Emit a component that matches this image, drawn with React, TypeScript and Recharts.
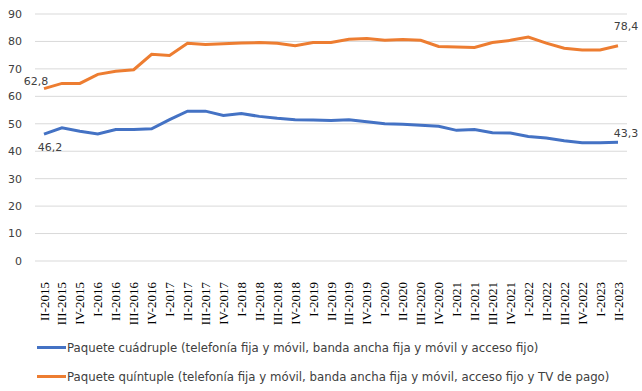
import React from 'react';
import { LineChart, Line, XAxis, YAxis, CartesianGrid, Legend, LabelList } from 'recharts';

const categories = ['II-2015','III-2015','IV-2015','I-2016','II-2016','III-2016','IV-2016','I-2017','II-2017','III-2017','IV-2017','I-2018','II-2018','III-2018','IV-2018','I-2019','II-2019','III-2019','IV-2019','I-2020','II-2020','III-2020','IV-2020','I-2021','II-2021','III-2021','IV-2021','I-2022','II-2022','III-2022','IV-2022','I-2023','II-2023'];
const cuadruple = [46.2,48.5,47.3,46.3,47.9,47.9,48.2,51.5,54.6,54.6,53.0,53.7,52.7,52.0,51.5,51.4,51.2,51.5,50.7,50.0,49.8,49.5,49.1,47.6,47.9,46.7,46.6,45.4,44.8,43.8,43.1,43.1,43.3];
const quintuple = [62.8,64.7,64.7,68.0,69.1,69.7,75.3,74.9,79.3,78.9,79.2,79.4,79.6,79.3,78.4,79.6,79.6,80.8,81.1,80.4,80.7,80.4,78.2,78.0,77.8,79.6,80.4,81.6,79.4,77.5,76.9,76.9,78.4];
const yTicks = [0,10,20,30,40,50,60,70,80,90];
const seriesNames = [
  'Paquete cuádruple (telefonía fija y móvil, banda ancha fija y móvil y acceso fijo)',
  'Paquete quíntuple (telefonía fija y móvil, banda ancha fija y móvil, acceso fijo y TV de pago)',
];
const colors = ['#4472C4', '#ED7D31'];

const data = categories.map((c, i) => ({ cat: c, cuadruple: cuadruple[i], quintuple: quintuple[i] }));
const last = categories.length - 1;
const fmt = (v: number) => v.toFixed(1).replace('.', ',');
const FONT = "'DejaVu Sans', Verdana, sans-serif";

const XTick = (props: any) => {
  const { x, y, payload } = props;
  return (
    <text x={x} y={y} transform={`rotate(-90, ${x}, ${y})`} textAnchor="end" dominantBaseline="central"
      fontFamily="'Liberation Serif', 'Times New Roman', serif" fontSize={13} fill="#000" dx={-13}>
      {payload.value}
    </text>
  );
};

const makeLabel = (firstDx: number, firstDy: number, lastDx: number, lastDy: number) => (props: any) => {
  const { x, y, value, index } = props;
  if (index !== 0 && index !== last) return null;
  const dx = index === 0 ? firstDx : lastDx;
  const dy = index === 0 ? firstDy : lastDy;
  return (
    <text x={x + dx} y={y + dy} textAnchor="middle" dominantBaseline="central" fontFamily={FONT} fontSize={11} fill="#404040">
      {fmt(value)}
    </text>
  );
};

const LegendContent = () => (
  <div style={{ fontFamily: FONT, fontSize: 11.75, color: '#404040' }}>
    {seriesNames.map((n, i) => (
      <div key={i} style={{ display: 'flex', alignItems: 'center', height: 29 }}>
        <div style={{ width: 29, height: 3, background: colors[i], marginRight: 1 }} />
        <span style={{ whiteSpace: 'nowrap' }}>{n}</span>
      </div>
    ))}
  </div>
);

export default function App() {
  return (
    <div style={{ position: 'absolute', left: 0, top: 0, width: 642, height: 391, background: '#fff' }}>
      <LineChart width={642} height={391} data={data} margin={{ top: 14, right: 15, left: 0, bottom: 0 }}>
        <CartesianGrid vertical={false} stroke="#D9D9D9" strokeWidth={1} />
        <XAxis dataKey="cat" interval={0} tick={<XTick />} axisLine={false} tickLine={false} height={130}
          padding={{ left: 9, right: 9 }} />
        <YAxis domain={[0, 90]} ticks={yTicks} width={35} axisLine={false} tickLine={false} tickMargin={7}
          tick={{ fontFamily: FONT, fontSize: 11, fill: '#404040' }} />
        <Legend layout="vertical" align="center" verticalAlign="middle" content={<LegendContent />}
          wrapperStyle={{ left: 37, top: 333, width: 600, height: 58 }} />
        <Line dataKey="cuadruple" name={seriesNames[0]} stroke={colors[0]} strokeWidth={3} dot={false} isAnimationActive={false}>
          <LabelList dataKey="cuadruple" content={makeLabel(6, 13, 8, -9)} />
        </Line>
        <Line dataKey="quintuple" name={seriesNames[1]} stroke={colors[1]} strokeWidth={3} dot={false} isAnimationActive={false}>
          <LabelList dataKey="quintuple" content={makeLabel(-8, -7, 8, -19)} />
        </Line>
      </LineChart>
    </div>
  );
}
